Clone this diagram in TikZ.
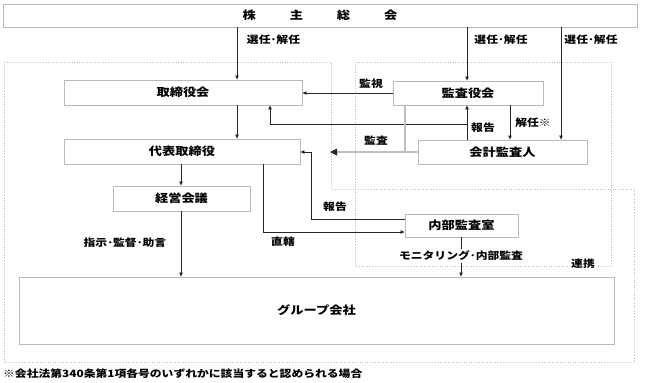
\documentclass[tikz,border=0pt]{standalone}
\usepackage{fontspec}
\newfontfamily\jp{Noto Sans CJK JP}[FakeStretch=1.18]
\usetikzlibrary{arrows.meta}
\begin{document}
\begin{tikzpicture}[x=1pt,y=-1pt,
  box/.style={draw=gray!55, line width=0.9pt, fill=white, inner sep=0pt,
    font=\jp\bfseries\fontsize{11.2}{12}\selectfont},
  lbl/.style={font=\jp\bfseries\fontsize{10}{11}\selectfont, inner sep=1pt},
  conn/.style={draw=black!85, line width=0.65pt},
  arr/.style={conn, -{Triangle[length=4pt,width=3.4pt]}},
  dbl/.style={draw=black!80, double=gray!50, double distance=1.4pt, line width=0.7pt},
  region/.style={draw=gray!50, dotted, line width=0.6pt}]
\fill[white] (0,0) rectangle (649,383);
\useasboundingbox (0,0) rectangle (649,383);

% dotted regions
\draw[region] (4,62) -- (331,62) -- (331,189) -- (634,189) -- (634,362) -- (4,362) -- cycle;
\draw[region] (355,62) rectangle (611,266);

% boxes
\node[box, minimum width=634pt, minimum height=23pt] (kabu) at (320,15.5)
  {株\hspace{34pt}主\hspace{34pt}総\hspace{34pt}会};
\node[box, minimum width=238pt, minimum height=25pt] (tori) at (183,92.5) {取締役会};
\node[box, minimum width=150pt, minimum height=24pt] (kansa) at (468,93) {監査役会};
\node[box, minimum width=236pt, minimum height=25pt] (daihyo) at (182,151.5) {代表取締役};
\node[box, minimum width=169pt, minimum height=24pt] (kaikei) at (502.5,152) {会計監査人};
\node[box, minimum width=137pt, minimum height=25pt] (keiei) at (181.5,198.5) {経営会議};
\node[box, minimum width=113pt, minimum height=23pt] (naibu) at (461.5,225.5) {内部監査室};
\node[box, minimum width=595pt, minimum height=67pt] (group) at (316.5,310.5) {グループ会社};

% helper coordinates
\coordinate (cA) at (237,0);
\coordinate (cB) at (467,0);
\coordinate (cC) at (561,0);
\coordinate (cD) at (270,124);
\coordinate (cE) at (510,0);
\coordinate (cF) at (405,152);
\coordinate (cG) at (330,152);
\coordinate (cH) at (181,0);
\coordinate (cI) at (263,232);
\coordinate (cJ) at (311,219);
\coordinate (cK) at (461,0);

% connectors
\draw[arr] (kabu.south -| cA) -- (tori.north -| cA);
\draw[arr] (kabu.south -| cB) -- (kansa.north -| cB);
\draw[arr] (kabu.south -| cC) -- (kaikei.north -| cC);
\draw[arr] (kansa.west) -- (kansa.west -| tori.east);
\draw[arr] (kaikei.north -| cB) -- (kansa.south -| cB);
\draw[arr] (cB |- cD) -- (cD) -- (tori.south -| cD);
\draw[arr] (kansa.south -| cE) -- (kaikei.north -| cE);
\draw[dbl] (kansa.south -| cF) -- ([yshift=1pt]cF);
\draw[dbl] (kaikei.west |- cF) -- ([xshift=5pt]cG);
\fill[black!85] (cG) -- ++(7,-3.5) -- ++(0,7) -- cycle;
\draw[arr] (tori.south -| cA) -- (daihyo.north -| cA);
\draw[arr] (daihyo.south -| cH) -- (keiei.north -| cH);
\draw[arr] (daihyo.south -| cI) -- (cI) -- (naibu.west |- cI);
\draw[arr] (naibu.west |- cJ) -- (cJ) -- (cJ |- cF) -- (daihyo.east |- cF);
\draw[arr] (keiei.south -| cH) -- (group.north -| cH);
\draw[arr] (naibu.south -| cK) -- (group.north -| cK);

% labels
\node[lbl] (l1) at (273.5,40) {選任･解任};
\node[lbl] (l2) at (501,40) {選任･解任};
\node[lbl] (l3) at (591,40) {選任･解任};
\node[lbl] (l4) at (371,84) {監視};
\node[lbl] (l5) at (483,128) {報告};
\node[lbl] (l6) at (533,123) {解任※};
\node[lbl] (l7) at (376,141) {監査};
\node[lbl] (l8) at (335,207) {報告};
\node[lbl] (l9) at (283,242) {直轄};
\node[lbl] (l10) at (125,243) {指示･監督･助言};
\node[lbl, fill=white, inner sep=2pt] (l11) at (461,256) {モニタリング･内部監査};
\node[lbl, fill=white, inner sep=3pt] (l12) at (583,264) {連携};
\node[lbl, anchor=west, font=\jp\bfseries\fontsize{10}{12}\selectfont] (note) at (2,374)
  {※会社法第340条第1項各号のいずれかに該当すると認められる場合};
\end{tikzpicture}
\end{document}
